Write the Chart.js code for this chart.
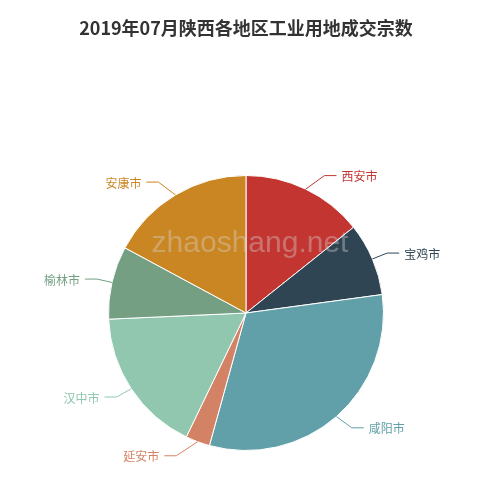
<!DOCTYPE html>
<html>
<head>
<meta charset="utf-8">
<script src="https://cdn.jsdelivr.net/npm/chart.js@4/dist/chart.umd.min.js"></script>
<style>
html,body{margin:0;padding:0;background:#fff;}
#wrap{position:relative;width:500px;height:490px;}
</style>
</head>
<body>
<div id="wrap"><canvas id="c" width="500" height="490"></canvas></div>
<script>
const titleText = '2019年07月陕西各地区工业用地成交宗数';
const categories = ['西安市','宝鸡市','咸阳市','延安市','汉中市','榆林市','安康市'];
const values = [5, 3, 11, 1, 6, 3, 6];
const colors = ['#c23531','#2f4554','#61a0a8','#d48265','#91c7ae','#749f83','#ca8622'];
const watermark = 'zhaoshang.net';

const LEN1 = 15, LEN2 = 12, GAP = 5;

const labelPlugin = {
  id: 'outLabels',
  afterDatasetsDraw(chart) {
    const ctx = chart.ctx;
    const meta = chart.getDatasetMeta(0);
    ctx.save();
    meta.data.forEach((arc, i) => {
      const p = arc.getProps(['x','y','startAngle','endAngle','outerRadius'], true);
      const mid = (p.startAngle + p.endAngle) / 2;
      const cx = Math.cos(mid), sy = Math.sin(mid);
      const r = p.outerRadius;
      const x0 = p.x + cx * r, y0 = p.y + sy * r;
      const dir = cx >= 0 ? 1 : -1;
      const y1 = p.y + sy * (r + LEN1);
      const dy = Math.abs(y1 - p.y);
      const R = r + LEN1 + LEN2;
      const x3 = p.x + dir * Math.sqrt(Math.max(0, R * R - dy * dy));
      const x1 = x3 - dir * LEN2;
      ctx.strokeStyle = colors[i];
      ctx.lineWidth = 1;
      ctx.beginPath();
      ctx.moveTo(x0, y0); ctx.lineTo(x1, y1); ctx.lineTo(x3, y1);
      ctx.stroke();
      ctx.fillStyle = colors[i];
      ctx.font = '12px "Noto Sans CJK SC", sans-serif';
      ctx.textBaseline = 'middle';
      ctx.textAlign = dir > 0 ? 'left' : 'right';
      ctx.fillText(categories[i], x3 + dir * GAP, y1 + 1);
    });
    ctx.restore();
  },
  afterDraw(chart) {
    const ctx = chart.ctx;
    ctx.save();
    ctx.font = '30px "Liberation Sans", Arial, sans-serif';
    ctx.fillStyle = 'rgba(215,215,215,0.38)';
    ctx.textAlign = 'center';
    ctx.textBaseline = 'alphabetic';
    ctx.fillText(watermark, 250, 252);
    ctx.restore();
  }
};

new Chart(document.getElementById('c'), {
  type: 'pie',
  data: {
    labels: categories,
    datasets: [{
      data: values,
      backgroundColor: colors,
      borderColor: '#ffffff',
      borderWidth: 1,
      hoverOffset: 0
    }]
  },
  options: {
    responsive: false,
    animation: false,
    layout: { padding: { top: 175, bottom: 39, left: 0, right: 8 } },
    plugins: {
      legend: { display: false },
      tooltip: { enabled: false },
      title: { display: false }
    }
  },
  plugins: [labelPlugin, {
    id: 'titleDraw',
    afterDraw(chart) {
      const ctx = chart.ctx;
      ctx.save();
      ctx.font = 'bold 18px "Noto Sans CJK SC", sans-serif';
      ctx.fillStyle = '#333333';
      ctx.textAlign = 'center';
      ctx.textBaseline = 'middle';
      ctx.fillText(titleText, 246, 28);
      ctx.restore();
    }
  }]
});
</script>
</body>
</html>
